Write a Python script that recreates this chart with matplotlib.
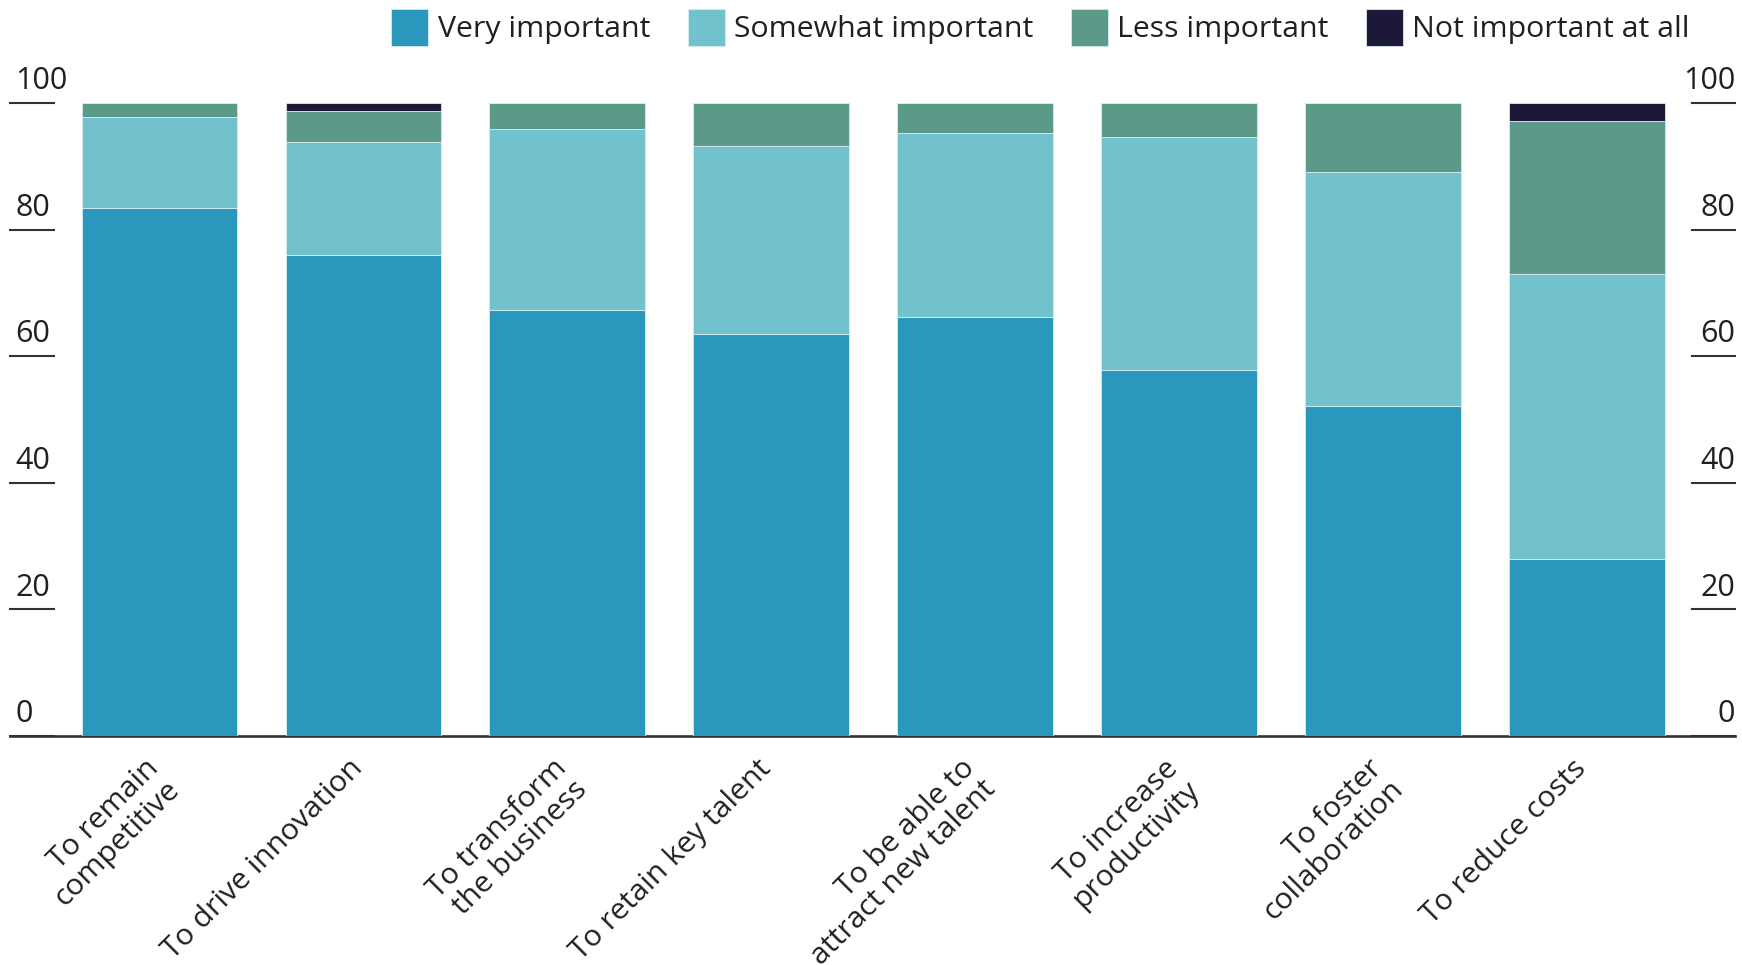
import matplotlib
matplotlib.use("Agg")
import matplotlib.pyplot as plt
from matplotlib.patches import Patch
from matplotlib.transforms import ScaledTranslation
import numpy as np

categories = [
    "To remain\ncompetitive",
    "To drive innovation",
    "To transform\nthe business",
    "To retain key talent",
    "To be able to\nattract new talent",
    "To increase\nproductivity",
    "To foster\ncollaboration",
    "To reduce costs",
]
very_important = [83.5, 76.1, 67.3, 63.6, 66.3, 57.8, 52.1, 28.0]
somewhat_important = [14.4, 17.8, 28.6, 29.6, 29.0, 36.8, 37.1, 45.0]
less_important = [2.1, 4.9, 4.1, 6.8, 4.7, 5.4, 10.8, 24.2]
not_important = [0.0, 1.2, 0.0, 0.0, 0.0, 0.0, 0.0, 2.8]
series_names = ["Very important", "Somewhat important", "Less important", "Not important at all"]
y_ticks = [0, 20, 40, 60, 80, 100]

colors = ["#2a98bd", "#72c2ce", "#5b9a89", "#1e1838"]
text_color = "#231f20"
line_color = "#333333"

plt.rcParams["font.family"] = ["Open Sans", "DejaVu Sans"]
FS_X = 21.7
FS_Y = 22
FS_LEG = 21.8

W, H = 1742, 965
fig = plt.figure(figsize=(W / 100, H / 100), dpi=100)
ax = fig.add_axes([10 / W, 229 / H, 1725 / W, (861.7 - 229) / H])

x = np.arange(len(categories))
series = [very_important, somewhat_important, less_important, not_important]
bottom = np.zeros(len(categories))
for vals, c in zip(series, colors):
    vals = np.array(vals)
    ax.bar(x, vals, width=0.763, bottom=bottom, color=c, edgecolor="#d6ecf1",
           linewidth=0.6, zorder=3)
    bottom += vals

ax.set_xlim(-0.733, 7.727)
ax.set_ylim(0, 100)
for s in ax.spines.values():
    s.set_visible(False)
ax.set_yticks([])

# baseline
ax.axhline(0, color=line_color, lw=1.9, zorder=1, clip_on=False)

ytr = ax.get_yaxis_transform()
for v in y_ticks:
    ax.plot([0, 0.0255], [v, v], transform=ytr, color=line_color, lw=1.5, clip_on=False, zorder=1)
    ax.plot([0.975, 1.0], [v, v], transform=ytr, color=line_color, lw=1.5, clip_on=False, zorder=1)
    ax.annotate(str(v), xy=(0.003, v), xycoords=ytr, xytext=(0, 10), textcoords="offset points",
                ha="left", va="baseline", fontsize=FS_Y, color=text_color, annotation_clip=False)
    ax.annotate(str(v), xy=(1.0, v), xycoords=ytr, xytext=(0, 10), textcoords="offset points",
                ha="right", va="baseline", fontsize=FS_Y, color=text_color, annotation_clip=False)

ax.set_xticks(x)
ax.set_xticklabels(categories, rotation=45, ha="right", rotation_mode="anchor",
                   fontsize=FS_X, color=text_color, linespacing=1.02)
ax.tick_params(axis="x", length=0, pad=13)
off = ScaledTranslation(-15 / 100, 0, fig.dpi_scale_trans)
for lab in ax.get_xticklabels():
    lab.set_transform(lab.get_transform() + off)

handles = [Patch(facecolor=c, edgecolor="#d6ecf1", linewidth=0.6) for c in colors]
fig.legend(handles, series_names, loc="upper right", bbox_to_anchor=(1690 / W, 1 - 9 / H),
           ncol=4, frameon=False, fontsize=FS_LEG, handlelength=1.22, handleheight=1.5,
           handletextpad=0.3, columnspacing=1.25, borderaxespad=0, borderpad=0,
           labelcolor=text_color)

# subtitle cut off at the top edge of the image
fig.text(17 / W, 1 + 8 / H, "(% of respondents)", fontsize=23, color=text_color,
         ha="left", va="baseline")

fig.savefig("out.png", dpi=100)
